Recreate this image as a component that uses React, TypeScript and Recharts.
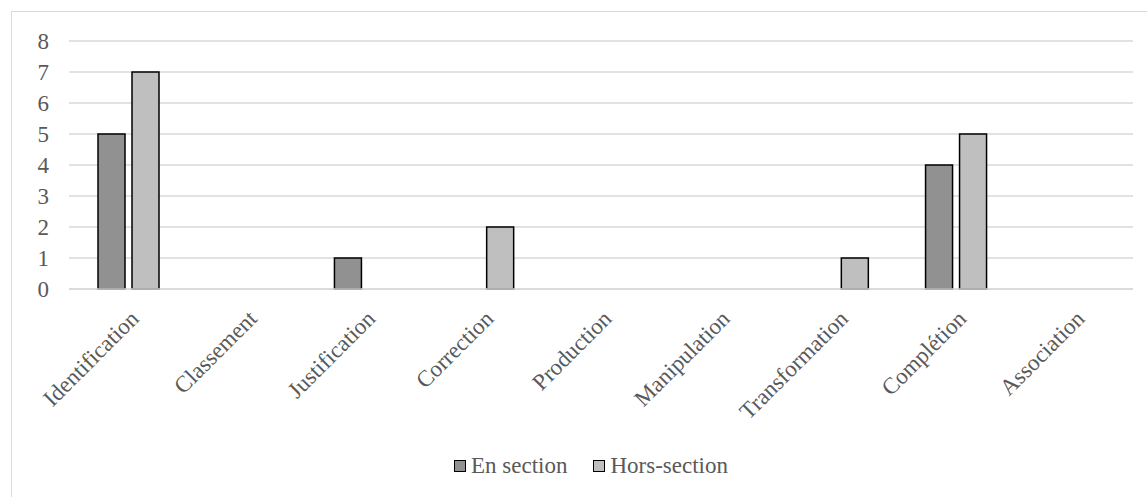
import React from 'react';
import { BarChart, Bar, XAxis, YAxis, CartesianGrid, Legend } from 'recharts';

const categories = [
  'Identification',
  'Classement',
  'Justification',
  'Correction',
  'Production',
  'Manipulation',
  'Transformation',
  'Complétion',
  'Association',
];
const enSection = [5, 0, 1, 0, 0, 0, 0, 4, 0];
const horsSection = [7, 0, 0, 2, 0, 0, 1, 5, 0];
const yTicks = [0, 1, 2, 3, 4, 5, 6, 7, 8];

const series = [
  { key: 'enSection', name: 'En section', fill: '#919191' },
  { key: 'horsSection', name: 'Hors-section', fill: '#bfbfbf' },
];

const data = categories.map((name, i) => ({
  name,
  enSection: enSection[i],
  horsSection: horsSection[i],
}));

const FONT = 'Liberation Serif, Times New Roman, serif';
const TEXT = '#595959';
const GRID = '#d9d9d9';

function SlantedTick(props: any) {
  const { x, y, payload } = props;
  return (
    <g transform={`translate(${x + 12},${y + 31}) rotate(-45)`}>
      <text textAnchor="end" fill={TEXT} fontSize={23} style={{ fontFamily: FONT }}>
        {payload.value}
      </text>
    </g>
  );
}

function LegendRow() {
  return (
    <div
      style={{
        display: 'flex',
        justifyContent: 'center',
        alignItems: 'center',
        gap: 26,
        fontFamily: FONT,
        fontSize: 23,
        color: TEXT,
        lineHeight: '28px',
      }}
    >
      {series.map((s) => (
        <div key={s.key} style={{ display: 'flex', alignItems: 'center', fontFamily: FONT }}>
          <span
            style={{
              display: 'inline-block',
              width: 10,
              height: 10,
              background: s.fill,
              border: '1.5px solid #000',
              marginRight: 5,
            }}
          />
          <span style={{ fontFamily: FONT }}>{s.name}</span>
        </div>
      ))}
    </div>
  );
}

export default function App() {
  return (
    <div
      style={{
        position: 'fixed',
        left: 0,
        top: 0,
        width: 1147,
        height: 497,
        background: '#fff',
        overflow: 'hidden',
        fontFamily: FONT,
      }}
    >
      <div
        style={{
          position: 'absolute',
          left: 11,
          top: 11,
          width: 1200,
          height: 600,
          border: `1px solid ${GRID}`,
        }}
      />
      <div style={{ position: 'absolute', left: 0, top: 0 }}>
        <BarChart
          width={1147}
          height={497}
          data={data}
          margin={{ top: 41, right: 14, bottom: 0, left: 0 }}
          barSize={27}
          barGap={7}
          style={{ fontFamily: FONT }}
        >
          <CartesianGrid vertical={false} stroke={GRID} strokeWidth={1.3} />
          <XAxis
            dataKey="name"
            height={208}
            interval={0}
            tickLine={false}
            tickSize={0}
            tickMargin={0}
            axisLine={{ stroke: GRID, strokeWidth: 1.3 }}
            tick={<SlantedTick />}
          />
          <YAxis
            width={69}
            domain={[0, 8]}
            ticks={yTicks}
            axisLine={false}
            tickLine={false}
            tickMargin={14}
            tick={{ fill: TEXT, fontSize: 23, style: { fontFamily: FONT } }}
          />
          <Legend
            verticalAlign="middle"
            align="center"
            wrapperStyle={{ top: 452, left: 0, width: 1182, fontFamily: FONT }}
            content={() => <LegendRow />}
          />
          {series.map((s) => (
            <Bar
              key={s.key}
              dataKey={s.key}
              name={s.name}
              fill={s.fill}
              stroke="#000"
              strokeWidth={1.5}
              isAnimationActive={false}
            />
          ))}
        </BarChart>
      </div>
    </div>
  );
}
